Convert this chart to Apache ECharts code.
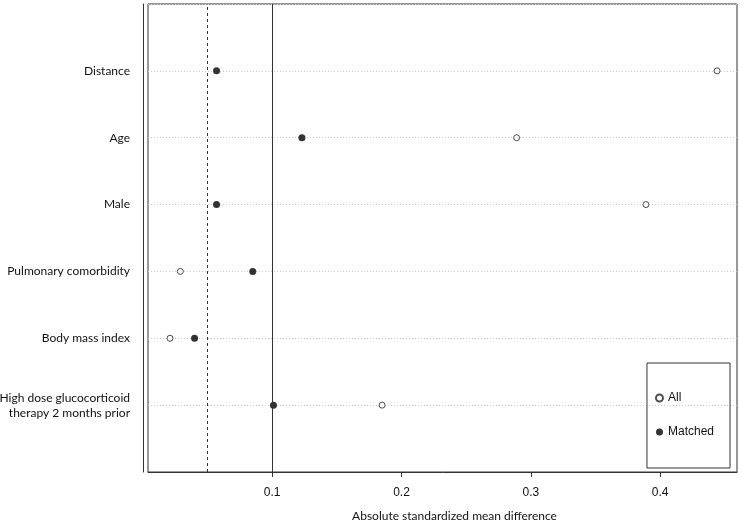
<!DOCTYPE html>
<html>
<head>
<meta charset="utf-8">
<script src="https://cdn.jsdelivr.net/npm/echarts@6/dist/echarts.min.js"></script>
<style>
  html, body { margin: 0; padding: 0; background: #fff; }
  #chart { width: 740px; height: 522px; }
</style>
</head>
<body>
<div id="chart"></div>
<script>
// covariates, top to bottom
const categories = [
  'Distance',
  'Age',
  'Male',
  'Pulmonary comorbidity',
  'Body mass index',
  'High dose glucocorticoid\ntherapy 2 months prior'
]
const allValues = [0.444, 0.289, 0.389, 0.029, 0.021, 0.185]
const matchedValues = [0.057, 0.123, 0.057, 0.085, 0.040, 0.101]
const xTicks = [0.1, 0.2, 0.3, 0.4]
const refLines = [0.05, 0.1]

// row position: first category at top
const rowOf = i => categories.length - i

const chart = echarts.init(document.getElementById('chart'))

const option = {
  animation: false,
  grid: {
    left: 148, right: 3, top: 4, bottom: 50,
    outerBoundsMode: 'none',
    show: true, borderColor: '#333', borderWidth: 1
  },
  xAxis: {
    type: 'value',
    min: 0.004,
    max: 0.4594,
    name: 'Absolute standardized mean difference',
    nameLocation: 'middle',
    nameGap: 38,
    nameTextStyle: { fontFamily: 'Lato', fontSize: 12, color: '#111', padding: [0, 0, 0, 24] },
    axisLine: { show: true, lineStyle: { color: '#333' } },
    axisTick: { show: true, length: 5, customValues: xTicks, lineStyle: { color: '#333' } },
    axisLabel: {
      customValues: xTicks,
      margin: 15,
      fontFamily: 'Liberation Sans', fontSize: 12, color: '#111',
      formatter: v => v.toFixed(1)
    },
    splitLine: { show: false }
  },
  yAxis: {
    type: 'value',
    min: 0,
    max: 7,
    interval: 1,
    offset: 5,
    axisLine: { show: true, lineStyle: { color: '#333' } },
    axisTick: { show: false },
    axisLabel: {
      margin: 13,
      fontFamily: 'Lato', fontSize: 12, color: '#111', align: 'right', lineHeight: 15,
      formatter: v => {
        const i = categories.length - v
        return (i >= 0 && i < categories.length) ? categories[i] : ''
      }
    },
    splitLine: {
      show: true,
      lineStyle: { color: '#ccc', type: [1, 2], width: 1 }
    }
  },
  legend: {
    orient: 'vertical',
    right: 10,
    top: 363,
    padding: [29, 16, 30, 8],
    itemGap: 22,
    itemWidth: 7,
    itemHeight: 7,
    borderColor: '#333',
    borderWidth: 1,
    textStyle: { fontFamily: 'Liberation Sans', fontSize: 12, color: '#111' },
    data: [
      { name: 'All', icon: 'circle' },
      { name: 'Matched', icon: 'circle' }
    ]
  },
  series: [
    {
      name: 'All',
      type: 'scatter',
      symbol: 'circle',
      symbolSize: 6,
      itemStyle: { color: '#fff', borderColor: '#222', borderWidth: 1 },
      data: allValues.map((v, i) => [v, rowOf(i)]),
      markLine: {
        silent: true,
        symbol: 'none',
        label: { show: false },
        data: [
          { xAxis: refLines[0], lineStyle: { color: '#333', type: [3, 3], width: 1 } },
          { xAxis: refLines[1], lineStyle: { color: '#333', type: 'solid', width: 1 } }
        ]
      },
      z: 3
    },
    {
      name: 'Matched',
      type: 'scatter',
      symbol: 'circle',
      symbolSize: 7,
      itemStyle: { color: '#000' },
      data: matchedValues.map((v, i) => [v, rowOf(i)]),
      z: 3
    }
  ]
}

chart.setOption(option)
</script>
</body>
</html>
